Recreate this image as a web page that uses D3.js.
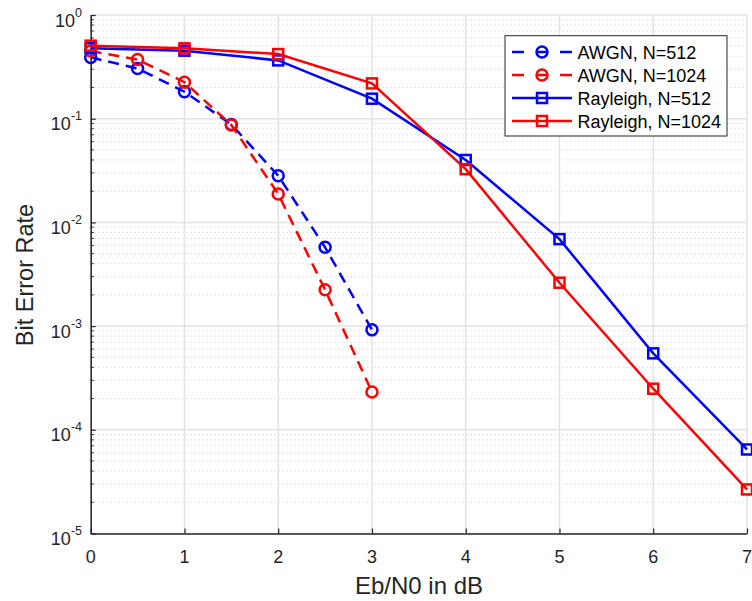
<!DOCTYPE html>
<html><head><meta charset="utf-8">
<script src="https://cdn.jsdelivr.net/npm/d3@7"></script>
<style>body{margin:0;background:#fff;} svg{display:block;font-family:"Liberation Sans",Arial,Helvetica,sans-serif;}</style>
</head><body>
<svg id="chart" width="752" height="601"></svg>
<script>
const ebn0Awgn = [0, 0.5, 1, 1.5, 2, 2.5, 3];
const ebn0Rayleigh = [0, 1, 2, 3, 4, 5, 6, 7];
const berAwgn512 = [0.39, 0.305, 0.182, 0.088, 0.0282, 0.00575, 0.00092];
const berAwgn1024 = [0.45, 0.372, 0.225, 0.087, 0.0188, 0.00224, 0.000232];
const berRay512 = [0.478, 0.453, 0.365, 0.156, 0.040, 0.0069, 0.000546, 0.0000646];
const berRay1024 = [0.506, 0.477, 0.42, 0.219, 0.0326, 0.00262, 0.000249, 0.0000266];
const xTicks = [0, 1, 2, 3, 4, 5, 6, 7];
const yExponents = [0, -1, -2, -3, -4, -5];
const seriesNames = ["AWGN, N=512", "AWGN, N=1024", "Rayleigh, N=512", "Rayleigh, N=1024"];

const series = [
  {name: seriesNames[0], x: ebn0Awgn, y: berAwgn512, color: "#0000ff", dash: "11,7", marker: "circle"},
  {name: seriesNames[1], x: ebn0Awgn, y: berAwgn1024, color: "#ff0000", dash: "11,7", marker: "circle"},
  {name: seriesNames[2], x: ebn0Rayleigh, y: berRay512, color: "#0000ff", dash: null, marker: "square"},
  {name: seriesNames[3], x: ebn0Rayleigh, y: berRay1024, color: "#ff0000", dash: null, marker: "square"}
];

const svg = d3.select("#chart");
const L = 90.7, R = 747, T = 15, B = 533.5;
const x = d3.scaleLinear().domain([0, 7]).range([L, R]);
const y = d3.scaleLog().domain([1e-5, 1]).range([B, T]);

// grid: minor
const minor = [];
for (let e = -5; e < 0; e++) for (let m = 2; m <= 9; m++) minor.push(m * Math.pow(10, e));
svg.append("g").selectAll("line").data(minor).join("line")
  .attr("x1", L).attr("x2", R).attr("y1", d => y(d)).attr("y2", d => y(d))
  .attr("stroke", "#c8c8c8").attr("stroke-width", 1).attr("stroke-dasharray", "1,3");
// grid: major
svg.append("g").selectAll("line").data(yExponents).join("line")
  .attr("x1", L).attr("x2", R).attr("y1", d => y(Math.pow(10, d))).attr("y2", d => y(Math.pow(10, d)))
  .attr("stroke", "#e3e3e3").attr("stroke-width", 1.5);
svg.append("g").selectAll("line").data(xTicks).join("line")
  .attr("x1", d => x(d)).attr("x2", d => x(d)).attr("y1", T).attr("y2", B)
  .attr("stroke", "#e3e3e3").attr("stroke-width", 1.5);

// axes
const xAxis = d3.axisBottom(x).tickValues(xTicks).tickSizeInner(-5).tickSizeOuter(0).tickFormat("");
const gx = svg.append("g").attr("transform", `translate(0,${B})`).call(xAxis);
gx.select(".domain").attr("stroke", "#262626").attr("stroke-width", 1.5);
gx.selectAll(".tick line").attr("stroke", "#262626").attr("stroke-width", 1.2);
svg.append("g").selectAll("text").data(xTicks).join("text")
  .attr("x", d => x(d)).attr("y", 563).attr("text-anchor", "middle")
  .attr("font-size", 18).attr("fill", "#262626").text(d => d);

const yAxis = d3.axisLeft(y).tickValues(yExponents.map(e => Math.pow(10, e))).tickSizeInner(-5).tickSizeOuter(0).tickFormat("");
const gy = svg.append("g").attr("transform", `translate(${L},0)`).call(yAxis);
gy.select(".domain").attr("stroke", "#262626").attr("stroke-width", 1.5);
gy.selectAll(".tick line").attr("stroke", "#262626").attr("stroke-width", 1.2);
svg.append("g").selectAll("line").data(minor).join("line")
  .attr("x1", L).attr("x2", L + 3).attr("y1", d => y(d)).attr("y2", d => y(d))
  .attr("stroke", "#262626").attr("stroke-width", 1);

const yl = svg.append("g").selectAll("text").data(yExponents).join("text")
  .attr("x", 82).attr("y", d => y(Math.pow(10, d)) + 11.5).attr("text-anchor", "end")
  .attr("font-size", 18).attr("fill", "#262626");
yl.append("tspan").text("10");
yl.append("tspan").attr("dy", -10).attr("font-size", 12.5).text(d => d === 0 ? "0" : String(d));

svg.append("text").attr("x", 419).attr("y", 594).attr("text-anchor", "middle")
  .attr("font-size", 24).attr("fill", "#262626").text("Eb/N0 in dB");
svg.append("text").attr("transform", "translate(33,275) rotate(-90)").attr("text-anchor", "middle")
  .attr("font-size", 23.5).attr("fill", "#262626").text("Bit Error Rate");

// series
const line = d3.line().x(d => x(d[0])).y(d => y(d[1]));
function drawMarker(g, type, cx, cy, color) {
  if (type === "circle") {
    g.append("circle").attr("cx", cx).attr("cy", cy).attr("r", 5.5)
      .attr("fill", "none").attr("stroke", color).attr("stroke-width", 2.5);
  } else {
    g.append("rect").attr("x", cx - 5).attr("y", cy - 5).attr("width", 10).attr("height", 10)
      .attr("fill", "none").attr("stroke", color).attr("stroke-width", 2.5);
  }
}
series.forEach(s => {
  const pts = s.x.map((v, i) => [v, s.y[i]]);
  const g = svg.append("g");
  g.append("path").attr("d", line(pts)).attr("fill", "none").attr("stroke", s.color)
    .attr("stroke-width", 2.5).attr("stroke-dasharray", s.dash);
  pts.forEach(p => drawMarker(g, s.marker, x(p[0]), y(p[1]), s.color));
});

// legend
const lg = svg.append("g");
lg.append("rect").attr("x", 505).attr("y", 35.7).attr("width", 222).attr("height", 100.3)
  .attr("fill", "#fff").attr("stroke", "#262626").attr("stroke-width", 1);
series.forEach((s, i) => {
  const cy = 52 + i * 23;
  const gi = lg.append("g");
  if (s.dash) {
    gi.append("line").attr("x1", 512).attr("x2", 524).attr("y1", cy).attr("y2", cy).attr("stroke", s.color).attr("stroke-width", 2.5);
    gi.append("line").attr("x1", 537).attr("x2", 547).attr("y1", cy).attr("y2", cy).attr("stroke", s.color).attr("stroke-width", 2.5);
    gi.append("line").attr("x1", 560).attr("x2", 572).attr("y1", cy).attr("y2", cy).attr("stroke", s.color).attr("stroke-width", 2.5);
  } else {
    gi.append("line").attr("x1", 512).attr("x2", 572).attr("y1", cy).attr("y2", cy).attr("stroke", s.color).attr("stroke-width", 2.5);
  }
  drawMarker(gi, s.marker, 542, cy, s.color);
  gi.append("text").attr("x", 577.5).attr("y", cy + 6.5).attr("font-size", 18).attr("fill", "#000").text(s.name);
});
</script>
</body></html>
